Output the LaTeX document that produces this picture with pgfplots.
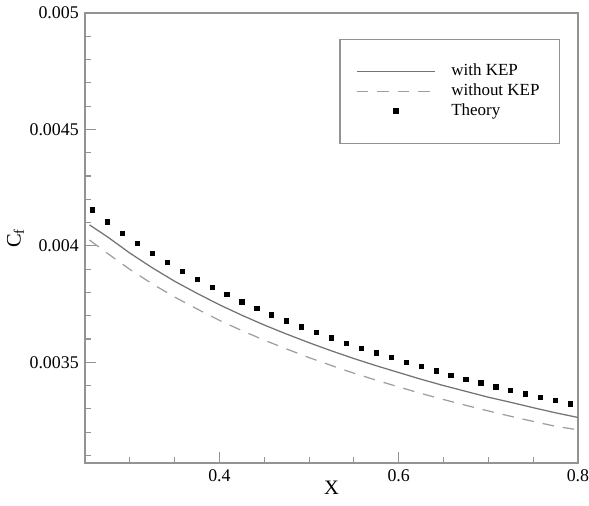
\documentclass[border=0pt]{standalone}
\usepackage{fontspec}
\setmainfont{Liberation Serif}
\usepackage{pgfplots}
\usepackage{pgfplotstable}
\pgfplotsset{compat=1.18}

\pgfplotsset{
  longline legend/.style={legend image code/.code={\draw[##1] (0pt,0pt) -- (44pt,0pt); \path[draw=none, fill=none] (0pt,0pt) -- (51pt,0pt);}},
  centremark legend/.style={legend image code/.code={\draw[##1] plot[only marks] coordinates {(22pt,0pt)}; \path[draw=none, fill=none] (0pt,0pt) -- (51pt,0pt);}},
}

\pgfplotstableread{
x       cf
0.255   0.004090
0.275   0.004039
0.300   0.003969
0.325   0.003906
0.350   0.003848
0.375   0.003796
0.400   0.003747
0.425   0.003702
0.450   0.003660
0.475   0.003621
0.500   0.003584
0.525   0.003549
0.550   0.003516
0.575   0.003485
0.600   0.003456
0.625   0.003427
0.650   0.003400
0.675   0.003375
0.700   0.003350
0.725   0.003328
0.750   0.003305
0.775   0.003283
0.800   0.003263
}\withkep

\pgfplotstableread{
x       cf
0.255   0.004025
0.275   0.003968
0.300   0.003899
0.325   0.003837
0.350   0.003780
0.375   0.003729
0.400   0.003680
0.425   0.003636
0.450   0.003595
0.475   0.003557
0.500   0.003520
0.525   0.003486
0.550   0.003453
0.575   0.003423
0.600   0.003394
0.625   0.003366
0.650   0.003340
0.675   0.003315
0.700   0.003291
0.725   0.003268
0.750   0.003246
0.775   0.003225
0.800   0.003210
}\withoutkep

\pgfplotstableread{
x       cf
0.2583  0.004154
0.2750  0.004103
0.2917  0.004055
0.3083  0.004010
0.3250  0.003968
0.3417  0.003928
0.3583  0.003891
0.3750  0.003856
0.3917  0.003822
0.4083  0.003791
0.4250  0.003760
0.4417  0.003732
0.4583  0.003704
0.4750  0.003678
0.4917  0.003652
0.5083  0.003628
0.5250  0.003605
0.5417  0.003582
0.5583  0.003561
0.5750  0.003540
0.5917  0.003520
0.6083  0.003500
0.6250  0.003481
0.6417  0.003463
0.6583  0.003445
0.6750  0.003428
0.6917  0.003411
0.7083  0.003395
0.7250  0.003380
0.7417  0.003364
0.7583  0.003349
0.7750  0.003335
0.7917  0.003321
}\theory

\begin{document}
\begin{tikzpicture}
\begin{axis}[
  scale only axis, width=276pt, height=252pt,
  xmin=0.25, xmax=0.8, ymin=0.003067, ymax=0.005,
  xtick={0.4,0.6,0.8},
  minor xtick={0.3,0.35,0.45,0.5,0.55,0.65,0.7,0.75},
  ytick={0.0035,0.004,0.0045,0.005},
  minor ytick={0.0031,0.0032,0.0033,0.0034,0.0036,0.0037,0.0038,0.0039,0.0041,0.0042,0.0043,0.0044,0.0046,0.0047,0.0048,0.0049},
  tick align=inside, xtick pos=bottom, ytick pos=left,
  major tick length=6pt, minor tick length=3.5pt,
  axis line style={gray!85, line width=0.8pt},
  every tick/.style={gray!85, line width=0.6pt},
  scaled y ticks=false,
  yticklabel style={/pgf/number format/fixed, /pgf/number format/precision=4},
  /pgf/number format/assume math mode=true,
  tick label style={font=\fontsize{10}{12}\selectfont},
  label style={font=\fontsize{11.5}{13}\selectfont},
  xlabel={X}, ylabel={C\textsubscript{f}},
  xlabel style={at={(axis description cs:0.5,0)}, anchor=center, yshift=-14pt},
  ylabel style={at={(axis description cs:-0.141,0.5)}, anchor=center},
  legend style={at={(0.963,0.951)}, anchor=north east, draw=gray!85, line width=0.6pt,
    font=\fontsize{9.5}{10.5}\selectfont, inner xsep=9pt, inner ysep=12pt, row sep=-1pt,
    cells={anchor=west}, yshift=-2pt},
  legend cell align=left,
]
\addplot[gray!90!black, line width=0.7pt, longline legend]
  table[x=x, y=cf] {\withkep};
\addplot[gray!75, line width=0.7pt, dash pattern=on 6.5pt off 5pt, longline legend]
  table[x=x, y=cf] {\withoutkep};
\addplot[only marks, mark=square*, mark size=1.2pt, black, centremark legend]
  table[x=x, y=cf] {\theory};
\legend{with KEP, without KEP, Theory}
\end{axis}
\pgfresetboundingbox
\path[use as bounding box] ([xshift=-47.6pt,yshift=-23.5pt]current axis.south west) rectangle ([xshift=6.2pt,yshift=7.3pt]current axis.north east);
\end{tikzpicture}
\end{document}
